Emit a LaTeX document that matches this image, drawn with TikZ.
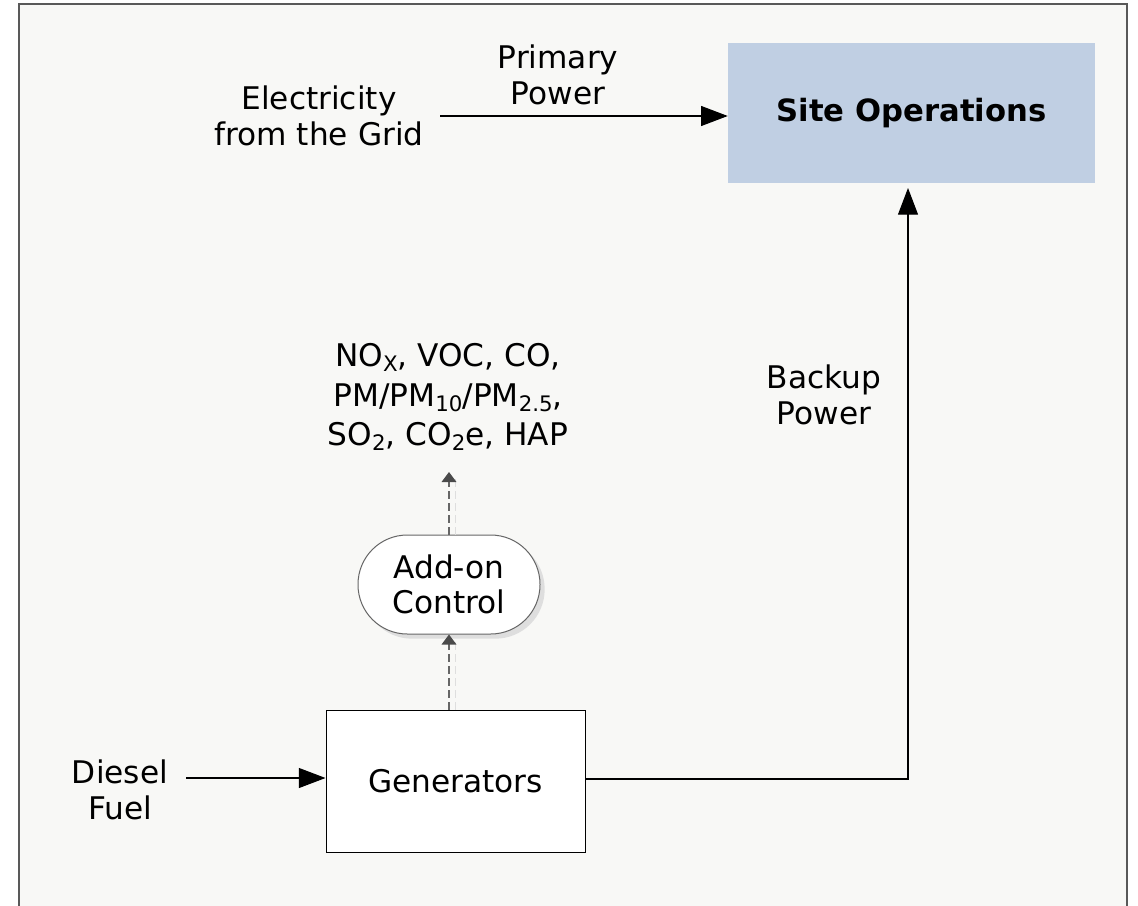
\documentclass[tikz,border=0pt]{standalone}
\usepackage{fontspec}
\setmainfont{DejaVu Sans}
\usetikzlibrary{arrows.meta,shadows}
\definecolor{pagebg}{HTML}{F8F8F6}
\definecolor{framegray}{HTML}{595959}
\definecolor{siteblue}{HTML}{C0CFE3}
\definecolor{dashgray}{HTML}{666666}
\definecolor{tipgray}{HTML}{4A4A4A}
\definecolor{shadowgray}{HTML}{DEDEDE}
\newcommand{\lowidx}[1]{\raisebox{-0.3ex}{\fontsize{16}{16}\selectfont #1}}
\begin{document}
\begin{tikzpicture}[x=0.75pt,y=-0.75pt,
  every node/.style={font=\fontsize{23.4}{26.5}\selectfont, align=center, inner sep=0pt},
  label/.style={text=black},
  sitebox/.style={fill=siteblue, minimum width=275.25pt, minimum height=105pt,
    font=\fontsize{23}{25}\selectfont\bfseries},
  genbox/.style={draw=black, line width=0.75pt, fill=white, minimum width=194.25pt, minimum height=106.5pt},
  ctrlbox/.style={draw=dashgray, line width=0.75pt, fill=white, rounded corners=37pt,
    minimum width=136.5pt, minimum height=74.25pt,
    drop shadow={shadow xshift=3.5pt, shadow yshift=-3.5pt, fill=shadowgray, opacity=1}},
  flow/.style={draw=black, line width=0.8pt, -{Triangle[length=20pt,width=15pt]}},
  dflow/.style={draw=dashgray, line width=0.8pt, dash pattern=on 6pt off 3pt,
    -{Triangle[length=7.5pt,width=11pt,color=tipgray,fill=tipgray]}},
  dshadow/.style={draw=shadowgray, line width=0.8pt, dash pattern=on 6pt off 3pt}
]
\useasboundingbox (0,0) rectangle (1138,906);
\fill[white] (0,0) rectangle (1138,906);
\draw[framegray, line width=1.6pt, fill=pagebg] (19,912) -- (19,4) -- (1127,4) -- (1127,912);

% process blocks
\node[sitebox] (site) at (911.5,113) {Site Operations};
\node[genbox] (gen) at (455.5,781) {Generators};
\node[ctrlbox] (ctrl) at (449,584.5) {Add-on\\Control};

% labels
\node[label] (grid) at (319,116) {Electricity\\from the Grid};
\node[label] (primary) at (558,75) {Primary\\Power};
\node[label] (backup) at (824,395) {Backup\\Power};
\node[label] (diesel) at (120,790) {Diesel\\Fuel};
\node[label, font=\fontsize{23.4}{29.5}\selectfont] (emis) at (448,397)
  {NO\lowidx{X}, VOC, CO,\\PM/PM\lowidx{10}/PM\lowidx{2.5},\\SO\lowidx{2}, CO\lowidx{2}e, HAP};

% connector ends
\coordinate (gridout) at (440,116);
\coordinate (dieselout) at (186,778);
\coordinate (backtip) at (908,188);
\coordinate (emistip) at (449,472);

% solid power and fuel flows
\draw[flow] (gridout) -- (gridout -| site.west);
\draw[flow] (dieselout) -- (dieselout -| gen.west);
\draw[flow] (gen.east |- 0,779) -| (backtip);

% dashed exhaust flows with their shadows
\draw[dshadow] ([xshift=5]ctrl.south |- gen.north) -- ([xshift=5]ctrl.south);
\draw[dshadow] ([xshift=5]ctrl.north) -- ([xshift=5,yshift=-2]emistip);
\draw[dflow] (ctrl.south |- gen.north) -- (ctrl.south);
\draw[dflow] (ctrl.north) -- (emistip);
\end{tikzpicture}
\end{document}
